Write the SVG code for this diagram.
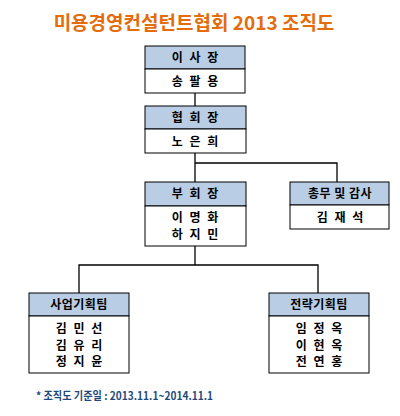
<svg xmlns="http://www.w3.org/2000/svg" width="400" height="416" viewBox="0 0 400 416">
<style>
.bg{fill:#ffffff}
.hd{fill:#B9CDE5;stroke:#000;stroke-width:1}
.bd{fill:#ffffff;stroke:#000;stroke-width:1}
.t{font-family:"Noto Sans CJK KR","Noto Sans",sans-serif;font-weight:bold;font-size:12px;fill:#000;text-anchor:middle}
.sp{letter-spacing:2px}
.ln{fill:none;stroke:#000;stroke-width:1.3}
.title{font-family:"Noto Sans CJK KR","Noto Sans",sans-serif;font-weight:bold;font-size:19px;fill:#E46C0A;text-anchor:middle}
.note{font-family:"Noto Sans CJK KR","Noto Sans",sans-serif;font-weight:bold;font-size:11px;fill:#1F497D}
</style>
<rect class="bg" x="0" y="0" width="400" height="416"/>
<text class="title" x="194" y="30">미용경영컨설턴트협회 2013 조직도</text>
<g id="connectors">
<path class="ln" d="M195,93 V106"/>
<path class="ln" d="M195,153 V182 M195,163 H337 V182"/>
<path class="ln" d="M195,246 V265 M79,293 V265 H318 V293"/>
</g>
<g id="n1">
<rect class="hd" x="145" y="46" width="100" height="23"/>
<rect class="bd" x="145" y="69" width="100" height="24"/>
<text class="t sp" x="196" y="62">이 사 장</text>
<text class="t sp" x="196" y="86">송 팔 용</text>
</g>
<g id="n2">
<rect class="hd" x="145" y="106" width="101" height="23"/>
<rect class="bd" x="145" y="129" width="101" height="24"/>
<text class="t sp" x="196" y="122">협 회 장</text>
<text class="t sp" x="196" y="146">노 은 희</text>
</g>
<g id="n3">
<rect class="hd" x="145" y="182" width="101" height="24"/>
<rect class="bd" x="145" y="206" width="101" height="40"/>
<text class="t sp" x="196" y="198">부 회 장</text>
<text class="t sp" x="196" y="222">이 명 화</text>
<text class="t sp" x="196" y="239">하 지 민</text>
</g>
<g id="n4">
<rect class="hd" x="290" y="182" width="99" height="23"/>
<rect class="bd" x="290" y="205" width="99" height="24"/>
<text class="t" x="340" y="198" letter-spacing="0.5">총무 및 감사</text>
<text class="t sp" x="341" y="222">김 재 석</text>
</g>
<g id="n5">
<rect class="hd" x="29" y="293" width="100" height="23"/>
<rect class="bd" x="29" y="316" width="100" height="57"/>
<text class="t" x="79" y="309" letter-spacing="0.5">사업기획팀</text>
<text class="t sp" x="80" y="333">김 민 선</text>
<text class="t sp" x="80" y="350">김 유 리</text>
<text class="t sp" x="80" y="366">정 지 윤</text>
</g>
<g id="n6">
<rect class="hd" x="269" y="293" width="100" height="23"/>
<rect class="bd" x="269" y="316" width="100" height="57"/>
<text class="t" x="319" y="309" letter-spacing="0.5">전략기획팀</text>
<text class="t sp" x="320" y="333">임 정 옥</text>
<text class="t sp" x="320" y="350">이 현 옥</text>
<text class="t sp" x="320" y="366">전 연 홍</text>
</g>
<text class="note" x="36" y="400" textLength="177" lengthAdjust="spacingAndGlyphs">* 조직도 기준일 : 2013.11.1~2014.11.1</text>
</svg>
